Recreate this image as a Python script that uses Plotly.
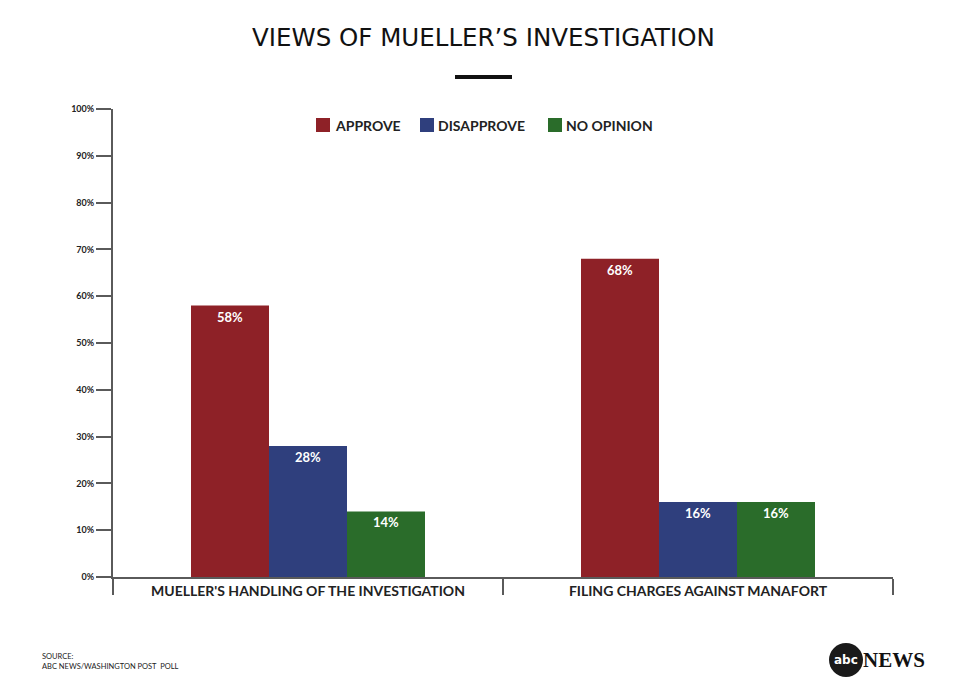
import plotly.graph_objects as go

categories = ["MUELLER'S HANDLING OF THE INVESTIGATION", "FILING CHARGES AGAINST MANAFORT"]
approve = [58, 68]
disapprove = [28, 16]
no_opinion = [14, 16]
series_names = ["APPROVE", "DISAPPROVE", "NO OPINION"]
series_colors = ["#8e2127", "#2f3f7d", "#2a6c2a"]
y_ticks = [0, 10, 20, 30, 40, 50, 60, 70, 80, 90, 100]
y_ticklabels = [f"{v}%" for v in y_ticks]

FONT = "Lato"
# page offset (body margin) compensation
OX, OY = 8, 8
L, T, R, B = 113, 109, 893, 577  # plot area in page px
W, H = R - L, B - T

def px(x):
    return (x - L) / W

def py(y):
    return (B - y) / H

fig = go.Figure()
for name, vals, col in zip(series_names, [approve, disapprove, no_opinion], series_colors):
    fig.add_trace(go.Bar(
        x=categories, y=vals, name=name, marker=dict(color=col, line=dict(width=0)),
        text=[f"<b>{v}%</b>" for v in vals], textposition="inside", insidetextanchor="end",
        textfont=dict(color="white", size=13, family=FONT), cliponaxis=False,
    ))

fig.update_layout(
    width=980, height=695,
    margin=dict(l=L - OX, r=980 - R + OX, t=T - OY, b=695 - B + OY),
    paper_bgcolor="white", plot_bgcolor="white",
    barmode="group", bargap=0.4, bargroupgap=0,
    showlegend=False,
    font=dict(family=FONT),
    uniformtext=dict(minsize=8, mode="show"),
    xaxis=dict(
        tickmode="array", tickvals=categories,
        ticktext=[f"<b>{c}</b>" for c in categories],
        tickfont=dict(family=FONT, size=14, color="#222"),
        showline=True, linecolor="#5a5a5a", linewidth=2,
        ticks="outside", tickson="boundaries", ticklen=16, tickwidth=2, tickcolor="#5a5a5a",
        showgrid=False, range=[-0.5, 1.5],
    ),
    yaxis=dict(
        range=[0, 100], tickvals=y_ticks, ticktext=[f"<b>{t}</b>" for t in y_ticklabels],
        tickfont=dict(family=FONT, size=9, color="#222"),
        showline=True, linecolor="#5a5a5a", linewidth=2,
        ticks="outside", ticklen=15, tickwidth=1.5, tickcolor="#5a5a5a",
        showgrid=False, zeroline=False,
    ),
)

# title + underline
fig.add_annotation(text="VIEWS OF MUELLER\u2019S INVESTIGATION", xref="paper", yref="paper",
                   x=px(483), y=py(37), showarrow=False,
                   font=dict(family="DejaVu Sans", size=24.5, color="#111"),
                   xanchor="center", yanchor="middle")
fig.add_shape(type="line", xref="paper", yref="paper",
              x0=px(455), x1=px(512), y0=py(77), y1=py(77),
              line=dict(color="#111", width=4))

# legend (manual)
legend_items = [(316, 333), (420, 436), (548, 564)]
for (sx, tx), name, col in zip(legend_items, series_names, series_colors):
    fig.add_shape(type="rect", xref="paper", yref="paper",
                  x0=px(sx), x1=px(sx + 14), y0=py(132), y1=py(118),
                  fillcolor=col, line=dict(width=0))
    fig.add_annotation(text=f"<b>{name}</b>", xref="paper", yref="paper",
                       x=px(tx), y=py(125), showarrow=False,
                       font=dict(family=FONT, size=14, color="#222"),
                       xanchor="left", yanchor="middle")

# source
fig.add_annotation(text="SOURCE:<br>ABC NEWS/WASHINGTON POST  POLL", xref="paper", yref="paper",
                   x=px(40), y=py(661), showarrow=False, align="left",
                   font=dict(family=FONT, size=7.5, color="#222"), xanchor="left", yanchor="middle")
# logo
cx, cy, r = 846, 660, 17
fig.add_shape(type="circle", xref="paper", yref="paper",
              x0=px(cx - r), x1=px(cx + r), y0=py(cy + r), y1=py(cy - r),
              fillcolor="#1a1a1a", line=dict(width=0))
fig.add_annotation(text="<b>abc</b>", xref="paper", yref="paper",
                   x=px(cx), y=py(cy), showarrow=False,
                   font=dict(family="DejaVu Sans", size=12, color="white"),
                   xanchor="center", yanchor="middle")
fig.add_annotation(text="<b>NEWS</b>", xref="paper", yref="paper",
                   x=px(861), y=py(cy), showarrow=False,
                   font=dict(family="Liberation Serif", size=21, color="#111"),
                   xanchor="left", yanchor="middle")

fig.write_html("out.html")
